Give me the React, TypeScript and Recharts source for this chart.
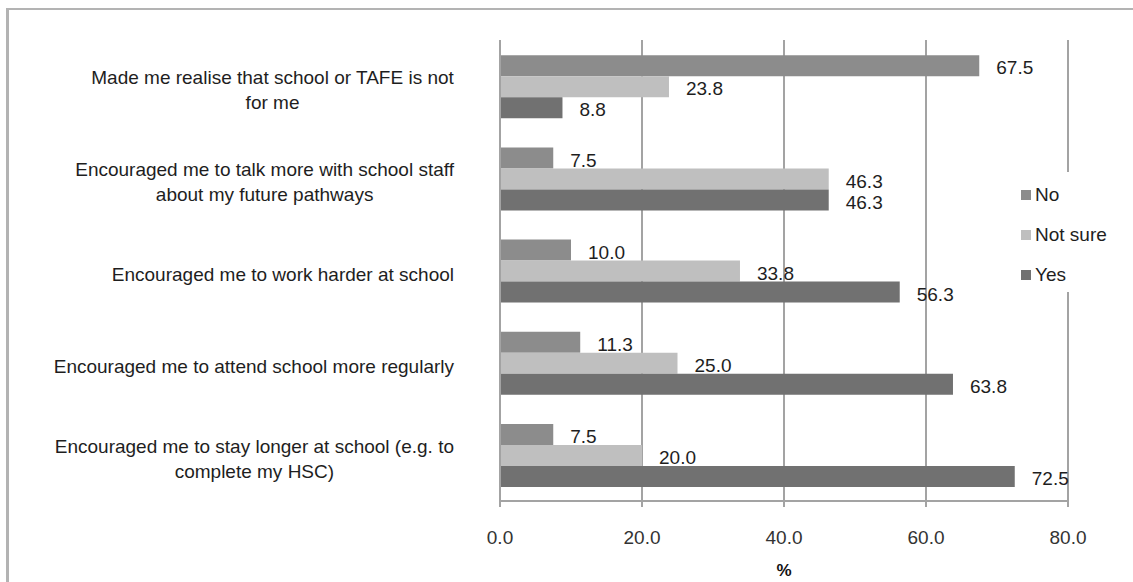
import { Bar, BarChart, CartesianGrid, LabelList, Legend, XAxis, YAxis } from "recharts";

const categories = [
  "Made me realise that school or TAFE is not\nfor me",
  "Encouraged me to talk more with school staff\nabout my future pathways",
  "Encouraged me to work harder at school",
  "Encouraged me to attend school more regularly",
  "Encouraged me to stay longer at school (e.g. to\ncomplete my HSC)",
];
const noValues = [67.5, 7.5, 10.0, 11.3, 7.5];
const notSureValues = [23.8, 46.3, 33.8, 25.0, 20.0];
const yesValues = [8.8, 46.3, 56.3, 63.8, 72.5];
const xTicks = [0, 20, 40, 60, 80];
const edgeTicks = [0, 1, 2, 3, 4, 5];

const FONT = '"Liberation Sans", Arial, sans-serif';
const FONT_SIZE = 19;
const LINE_H = 25;
const AXIS_GREY = "#a3a3a3";
const TEXT = "#1e1e1e";

const data = categories.map((name, i) => ({
  name,
  no: noValues[i],
  notSure: notSureValues[i],
  yes: yesValues[i],
}));

let measureCtx: CanvasRenderingContext2D | null = null;
function textWidth(s: string) {
  if (!measureCtx) measureCtx = document.createElement("canvas").getContext("2d");
  if (!measureCtx) return s.length * 9;
  measureCtx.font = `${FONT_SIZE}px ${FONT}`;
  return measureCtx.measureText(s).width;
}

// wrapped category label, lines centred on each other, block right-aligned to the tick
function CategoryTick({ x, y, payload }: any) {
  const lines = String(payload.value).split("\n");
  const widest = Math.max(...lines.map(textWidth));
  const cx = x - widest / 2;
  const first = y + 3.5 + 6.8 - ((lines.length - 1) * LINE_H) / 2;
  return (
    <text textAnchor="middle" fontFamily={FONT} fontSize={FONT_SIZE} fill={TEXT}>
      {lines.map((line, i) => (
        <tspan key={i} x={cx} y={first + i * LINE_H}>
          {line}
        </tspan>
      ))}
    </text>
  );
}

function LegendBox({ payload }: any) {
  return (
    <div style={{ position: "absolute", left: 0, top: 0, width: 100, height: 120, background: "#fff" }}>
      {(payload || []).map((item: any, i: number) => (
        <div
          key={item.value}
          style={{
            position: "absolute",
            left: 3,
            top: 10 + 40 * i,
            height: 26,
            display: "flex",
            alignItems: "center",
            whiteSpace: "nowrap",
          }}
        >
          <span style={{ width: 10, height: 10, background: item.color, display: "inline-block" }} />
          <span style={{ marginLeft: 4, fontFamily: FONT, fontSize: FONT_SIZE, color: TEXT }}>{item.value}</span>
        </div>
      ))}
    </div>
  );
}

const fmt = (v: any) => Number(v).toFixed(1);

export default function App() {
  return (
    <div style={{ position: "relative", width: 1133, height: 582, background: "#fff" }}>
      <style>{"html,body{margin:0;overflow:hidden;background:#fff}"}</style>
      <div
        style={{
          position: "absolute",
          left: 6,
          top: 8,
          width: 1200,
          height: 700,
          borderLeft: "3px solid #b3b3b3",
          borderTop: "2px solid #b3b3b3",
        }}
      />
      <div style={{ position: "absolute", left: 0, top: 0 }}>
        <BarChart
          width={1133}
          height={582}
          data={data}
          layout="vertical"
          margin={{ top: 40, right: 65, bottom: 21, left: 40 }}
          barCategoryGap="16.5%"
          barGap={0}
        >
          <CartesianGrid horizontal={false} stroke={AXIS_GREY} strokeWidth={2} yAxisId="z_cat" />
          <XAxis
            type="number"
            domain={[0, 80]}
            ticks={xTicks}
            tickFormatter={fmt}
            height={60}
            axisLine={{ stroke: AXIS_GREY, strokeWidth: 2 }}
            tickLine={{ stroke: AXIS_GREY, strokeWidth: 2 }}
            tickSize={6}
            tickMargin={24}
            tick={{ fontFamily: FONT, fontSize: FONT_SIZE, fill: "#333" }}
            label={{
              value: "%",
              position: "bottom",
              offset: 3,
              fontFamily: FONT,
              fontSize: 17,
              fontWeight: "bold",
              fill: "#111",
            }}
          />
          <YAxis
            yAxisId="z_cat"
            type="category"
            dataKey="name"
            width={459}
            axisLine={false}
            tickLine={false}
            tickSize={0}
            tickMargin={45}
            interval={0}
            tick={<CategoryTick />}
          />
          <YAxis
            yAxisId="a_edge"
            type="number"
            domain={[0, 5]}
            ticks={edgeTicks}
            width={1}
            tick={false}
            axisLine={{ stroke: AXIS_GREY, strokeWidth: 2 }}
            tickLine={{ stroke: AXIS_GREY, strokeWidth: 2 }}
            tickSize={7}
          />
          <Legend
            layout="vertical"
            align="right"
            verticalAlign="middle"
            content={<LegendBox />}
            wrapperStyle={{ left: 1018, top: 172, width: 0, height: 0 }}
          />
          <Bar yAxisId="z_cat" dataKey="no" name="No" fill="#8c8c8c" isAnimationActive={false}>
            <LabelList dataKey="no" position="right" offset={17} formatter={fmt} fill={TEXT} fontFamily={FONT} fontSize={FONT_SIZE} dy={2} />
          </Bar>
          <Bar yAxisId="z_cat" dataKey="notSure" name="Not sure" fill="#bfbfbf" isAnimationActive={false}>
            <LabelList dataKey="notSure" position="right" offset={17} formatter={fmt} fill={TEXT} fontFamily={FONT} fontSize={FONT_SIZE} dy={2} />
          </Bar>
          <Bar yAxisId="z_cat" dataKey="yes" name="Yes" fill="#717171" isAnimationActive={false}>
            <LabelList dataKey="yes" position="right" offset={17} formatter={fmt} fill={TEXT} fontFamily={FONT} fontSize={FONT_SIZE} dy={2} />
          </Bar>
        </BarChart>
      </div>
    </div>
  );
}
